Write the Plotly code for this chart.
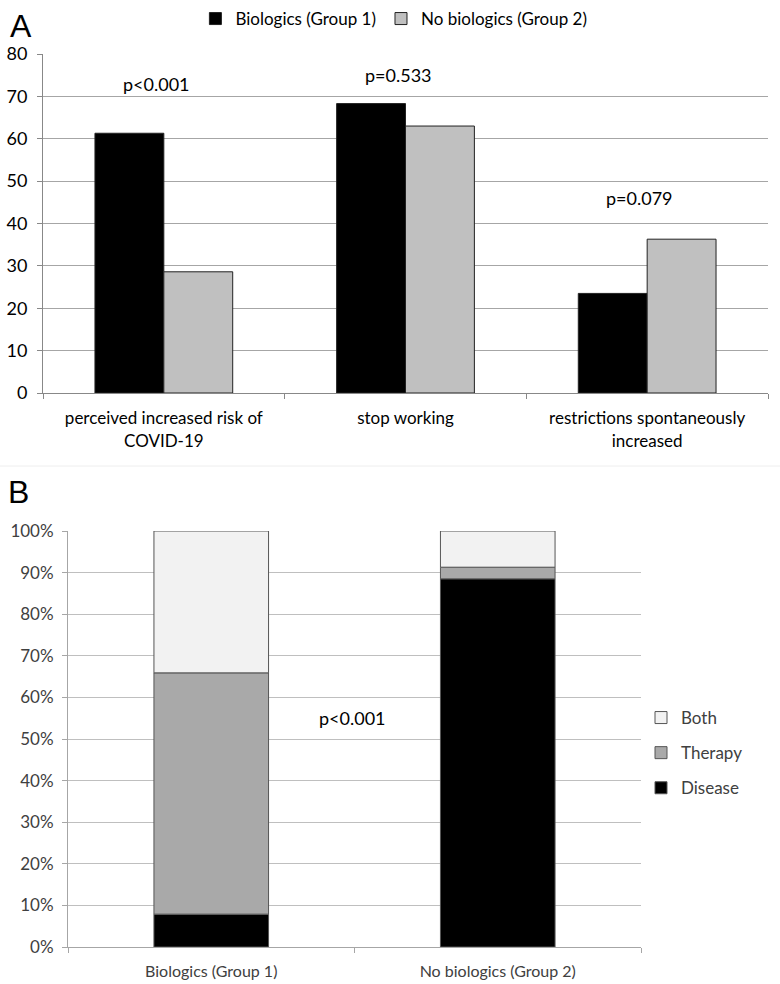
import numpy as np
import plotly.graph_objects as go

# Panel A data
cats_a = ["perceived increased risk of<br>COVID-19", "stop working", "restrictions spontaneously<br>increased"]
bio_a = [61.3, 68.3, 23.5]
nobio_a = [28.6, 63.0, 36.3]
pvals_a = ["p<0.001", "p=0.533", "p=0.079"]
pval_y_a = [73, 75, 46]

# Panel B data
cats_b = ["Biologics (Group 1)", "No biologics (Group 2)"]
disease_b = [0.079, 0.885]
therapy_b = [0.580, 0.028]
both_b = [0.341, 0.087]

FONT = "Lato, Liberation Sans, sans-serif"

fig = go.Figure()

fig.add_trace(go.Bar(x=cats_a, y=bio_a, name="Biologics (Group 1)",
                     marker=dict(color="#000000", line=dict(color="#222222", width=1)),
                     xaxis="x", yaxis="y", legend="legend"))
fig.add_trace(go.Bar(x=cats_a, y=nobio_a, name="No biologics (Group 2)",
                     marker=dict(color="#c0c0c0", line=dict(color="#222222", width=1)),
                     xaxis="x", yaxis="y", legend="legend"))

base_dis = np.zeros(len(cats_b))
base_ther = np.array(disease_b)
base_both = base_ther + np.array(therapy_b)
for name, vals, base, col, rank in [
    ("Disease", disease_b, base_dis, "#000000", 3),
    ("Therapy", therapy_b, base_ther, "#a9a9a9", 2),
    ("Both", both_b, base_both, "#f2f2f2", 1),
]:
    fig.add_trace(go.Bar(x=cats_b, y=vals, base=base, name=name,
                         offsetgroup="b", width=0.4, offset=-0.2,
                         marker=dict(color=col, line=dict(color="#555555", width=1)),
                         xaxis="x2", yaxis="y2", legend="legend2",
                         legendgroup=name, legendrank=rank))

annotations = []
for i, (t, yv) in enumerate(zip(pvals_a, pval_y_a)):
    annotations.append(dict(x=i - 0.03, y=yv, xref="x", yref="y", text=t, showarrow=False,
                            font=dict(family=FONT, size=18, color="#000000")))
annotations.append(dict(x=352 / 780, y=1 - 718 / 984, xref="paper", yref="paper", text="p<0.001",
                        showarrow=False, yanchor="middle",
                        font=dict(family=FONT, size=18, color="#000000")))
annotations.append(dict(x=21 / 780, y=1 - 26 / 984, xref="paper", yref="paper", text="A",
                        showarrow=False, xanchor="center", yanchor="middle",
                        font=dict(family="Liberation Sans, Arial", size=32, color="#000000")))
annotations.append(dict(x=18 / 780, y=1 - 492 / 984, xref="paper", yref="paper", text="B",
                        showarrow=False, xanchor="center", yanchor="middle",
                        font=dict(family="Liberation Sans, Arial", size=32, color="#000000")))

fig.update_layout(
    width=780, height=984,
    margin=dict(l=0, r=0, t=0, b=0, autoexpand=False),
    paper_bgcolor="white", plot_bgcolor="white",
    barmode="group", bargap=0.43, bargroupgap=0,
    font=dict(family=FONT, size=17, color="#000000"),
    xaxis=dict(domain=[43 / 780, 768 / 780], anchor="y", showline=True, linecolor="#888888",
               ticks="outside", tickson="boundaries", ticklen=5, tickcolor="#888888",
               ticklabelstandoff=10,
               tickfont=dict(family=FONT, size=17, color="#000000"), showgrid=False),
    yaxis=dict(domain=[1 - 393 / 984, 1 - 54 / 984], anchor="x", range=[0, 80], dtick=10,
               showline=True, linecolor="#888888", ticks="outside", ticklen=5, tickcolor="#888888",
               ticklabelstandoff=6,
               showgrid=True, gridcolor="#a6a6a6", zeroline=False,
               tickfont=dict(family=FONT, size=18, color="#000000")),
    xaxis2=dict(domain=[68 / 780, 641 / 780], anchor="y2", showline=True, linecolor="#a6a6a6",
                ticks="outside", tickson="boundaries", ticklen=5, tickcolor="#a6a6a6",
                ticklabelstandoff=10,
                tickfont=dict(family=FONT, size=16, color="#404040"), showgrid=False),
    yaxis2=dict(domain=[1 - 947 / 984, 1 - 531 / 984], anchor="x2", range=[0, 1], dtick=0.1,
                tickformat=".0%", showline=True, linecolor="#a6a6a6", ticks="outside", ticklen=5,
                tickcolor="#a6a6a6", ticklabelstandoff=5,
                showgrid=True, gridcolor="#bfbfbf", zeroline=False,
                tickfont=dict(family=FONT, size=17, color="#404040")),
    legend=dict(orientation="h", x=0.505, xanchor="center", y=1 - 1 / 984, yanchor="top",
                font=dict(family=FONT, size=17, color="#000000"), itemwidth=30,
                bgcolor="rgba(0,0,0,0)"),
    legend2=dict(orientation="v", x=641 / 780, xanchor="left", y=1 - 700 / 984, yanchor="top",
                 font=dict(family=FONT, size=17, color="#404040"), tracegroupgap=10,
                 bgcolor="rgba(0,0,0,0)"),
    annotations=annotations,
    shapes=[dict(type="line", xref="paper", yref="paper", x0=0, x1=1,
                 y0=1 - 466 / 984, y1=1 - 466 / 984, line=dict(color="#eeeeee", width=1))],
)

fig.write_html("out.html", config={"displayModeBar": False},
               post_script="document.body.style.margin='0';document.body.style.overflow='hidden';")
